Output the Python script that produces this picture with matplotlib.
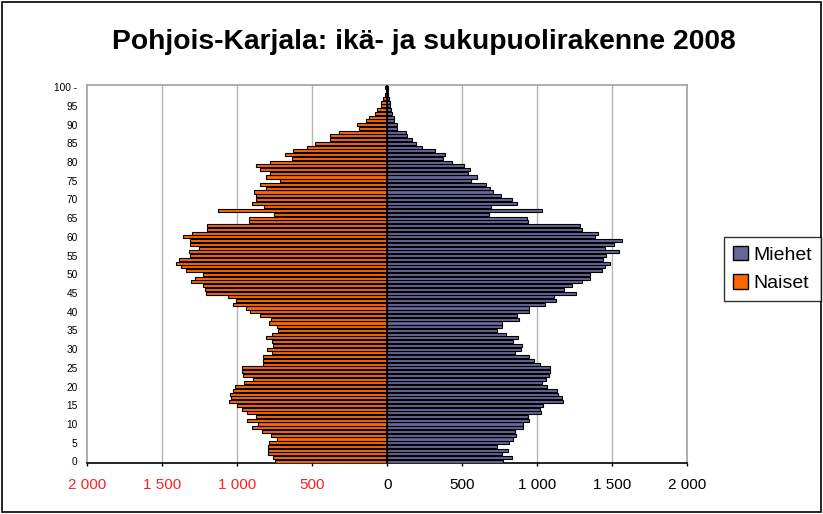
import numpy as np
import matplotlib
matplotlib.use("Agg")
import matplotlib.pyplot as plt
from matplotlib.patches import Patch, Rectangle

# ages 0..100, population by single year of age
ages = list(range(0, 101))

naiset = [750, 760, 797, 793, 793, 789, 738, 778, 838, 905,
          860, 933, 875, 938, 971, 1004, 1058, 1044, 1051, 1031,
          1013, 953, 893, 964, 967, 971, 827, 827, 827, 771,
          804, 760, 771, 806, 767, 732, 738, 787, 778, 847,
          915, 944, 1031, 1011, 1060, 1209, 1215, 1227, 1311, 1282,
          1227, 1342, 1375, 1409, 1391, 1315, 1320, 1255, 1315, 1315,
          1360, 1304, 1204, 1204, 922, 922, 753, 1127, 820, 905,
          877, 876, 889, 809, 849, 716, 809, 782, 849, 878,
          782, 638, 682, 627, 538, 480, 382, 382, 324, 189,
          200, 142, 122, 82, 71, 44, 42, 27, 16, 10,
          16]

miehet = [773, 833, 762, 802, 733, 813, 840, 858, 851, 902,
          902, 947, 936, 1025, 1018, 1036, 1169, 1162, 1140, 1129,
          1062, 1033, 1056, 1080, 1085, 1085, 1018, 978, 947, 851,
          889, 900, 840, 869, 791, 733, 762, 762, 880, 867,
          947, 944, 1053, 1122, 1111, 1256, 1180, 1229, 1296, 1353,
          1351, 1431, 1451, 1487, 1440, 1458, 1547, 1451, 1509, 1567,
          1385, 1403, 1296, 1285, 936, 929, 676, 1033, 691, 867,
          833, 756, 707, 684, 658, 558, 596, 540, 551, 511,
          433, 369, 384, 318, 229, 191, 162, 133, 122, 62,
          67, 47, 47, 29, 24, 18, 18, 11, 7, 5,
          5]

x_ticks = [-2000, -1500, -1000, -500, 0, 500, 1000, 1500, 2000]
x_labels = ["2 000", "1 500", "1 000", "500", "0", "500", "1 000", "1 500", "2 000"]
y_ticks = list(range(0, 101, 5))
y_labels = [str(v) for v in y_ticks[:-1]] + ["100 -"]

col_m = "#666699"
col_n = "#FF6600"

plt.rcParams['font.family'] = ['Liberation Sans', 'DejaVu Sans']

fig = plt.figure(figsize=(8.23, 5.14), dpi=100)
ax = fig.add_axes([0.1061, 0.0986, 0.7290, 0.7354])

ax.barh(ages, miehet, height=0.82, color=col_m, edgecolor="black", linewidth=0.8, zorder=3)
ax.barh(ages, [-v for v in naiset], height=0.82, color=col_n, edgecolor="black", linewidth=0.8, zorder=3)

ax.set_xlim(-2000, 2000)
ax.set_ylim(-0.5, 100.5)

for gx in [-1500, -1000, -500, 500, 1000, 1500]:
    ax.axvline(gx, color="#B4B4B4", linewidth=1.0, zorder=1)
ax.axvline(0, color="black", linewidth=1.2, zorder=4)

for side in ["top", "right", "left"]:
    ax.spines[side].set_color("#A0A0A0")
    ax.spines[side].set_linewidth(1.2)
ax.spines["bottom"].set_color("black")
ax.spines["bottom"].set_linewidth(1.2)

ax.set_xticks(x_ticks)
ax.set_xticklabels(x_labels, fontsize=11)
ax.tick_params(axis="x", direction="out", length=2.5, width=1, pad=8)
for lab, v in zip(ax.get_xticklabels(), x_ticks):
    lab.set_color("#FF2020" if v < 0 else "black")

ax.set_yticks(y_ticks)
ax.set_yticklabels(y_labels, fontsize=7.3)
ax.tick_params(axis="y", length=0, pad=7)

fig.text(0.5146, 0.918, "Pohjois-Karjala: ikä- ja sukupuolirakenne 2008",
         ha="center", va="center", fontsize=20.3, fontweight="bold")

handles = [Patch(facecolor=col_m, edgecolor="black", linewidth=1.0, label="Miehet"),
           Patch(facecolor=col_n, edgecolor="black", linewidth=1.0, label="Naiset")]
leg = fig.legend(handles=handles, loc="center", bbox_to_anchor=(0.9386, 0.4767),
                 fontsize=14, frameon=True, fancybox=False, handlelength=0.75,
                 handleheight=0.75, handletextpad=0.3, labelspacing=0.55,
                 borderpad=0.45, borderaxespad=0)
leg.get_frame().set_edgecolor("black")
leg.get_frame().set_linewidth(1.0)

fig.patches.append(Rectangle((0.002, 0.003), 0.996, 0.994, transform=fig.transFigure,
                             fill=False, edgecolor="black", linewidth=1.2))

fig.savefig("out.png", dpi=100)
